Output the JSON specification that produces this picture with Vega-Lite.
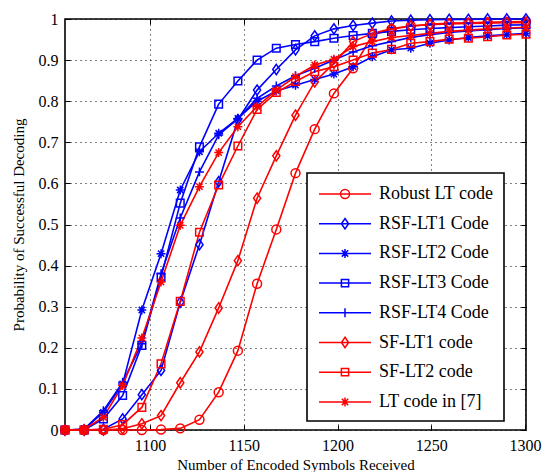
{
  "$schema": "https://vega.github.io/schema/vega-lite/v6.json",
  "width": 461,
  "height": 411,
  "autosize": "none",
  "padding": {"left": 65, "top": 19, "right": 18, "bottom": 42},
  "background": "white",
  "config": {
    "view": {"stroke": "black", "strokeWidth": 1.6},
    "axis": {
      "labelFont": "Liberation Serif", "labelFontSize": 16, "labelColor": "black",
      "titleFont": "Liberation Serif", "titleFontSize": 15, "titleFontWeight": "normal", "titleColor": "black",
      "domain": false, "tickColor": "black", "tickSize": -5, "tickWidth": 1,
      "gridColor": "black", "gridDash": [1, 4], "gridOpacity": 1, "gridWidth": 1,
      "labelFlush": false, "labelOverlap": false
    },
    "legend": {
      "strokeColor": "black", "strokeWidth": 1.6, "fillColor": "white", "padding": 10,
      "labelFont": "Liberation Serif", "labelFontSize": 18, "labelColor": "black",
      "labelOffset": 23, "symbolOffset": 17, "symbolStrokeWidth": 1.5, "symbolSize": 400, "rowPadding": 9.7
    }
  },
  "datasets": {
    "curves": [
      {"n":1054.72,"s":"Robust LT code","p":0},{"n":1064.96,"s":"Robust LT code","p":0},{"n":1075.2,"s":"Robust LT code","p":0},{"n":1085.44,"s":"Robust LT code","p":0},{"n":1095.68,"s":"Robust LT code","p":0},{"n":1105.92,"s":"Robust LT code","p":0.001},{"n":1116.16,"s":"Robust LT code","p":0.004},{"n":1126.4,"s":"Robust LT code","p":0.025},{"n":1136.64,"s":"Robust LT code","p":0.092},{"n":1146.88,"s":"Robust LT code","p":0.193},{"n":1157.12,"s":"Robust LT code","p":0.356},{"n":1167.36,"s":"Robust LT code","p":0.488},{"n":1177.6,"s":"Robust LT code","p":0.625},{"n":1187.84,"s":"Robust LT code","p":0.732},{"n":1198.08,"s":"Robust LT code","p":0.819},{"n":1208.32,"s":"Robust LT code","p":0.88},{"n":1218.56,"s":"Robust LT code","p":0.961},{"n":1228.8,"s":"Robust LT code","p":0.975},{"n":1239.04,"s":"Robust LT code","p":0.983},{"n":1249.28,"s":"Robust LT code","p":0.987},{"n":1259.52,"s":"Robust LT code","p":0.99},{"n":1269.76,"s":"Robust LT code","p":0.991},{"n":1280,"s":"Robust LT code","p":0.992},{"n":1290.24,"s":"Robust LT code","p":0.993},{"n":1300.48,"s":"Robust LT code","p":0.994},
      {"n":1054.72,"s":"RSF-LT1 Code","p":0},{"n":1064.96,"s":"RSF-LT1 Code","p":0},{"n":1075.2,"s":"RSF-LT1 Code","p":0.002},{"n":1085.44,"s":"RSF-LT1 Code","p":0.027},{"n":1095.68,"s":"RSF-LT1 Code","p":0.086},{"n":1105.92,"s":"RSF-LT1 Code","p":0.145},{"n":1116.16,"s":"RSF-LT1 Code","p":0.311},{"n":1126.4,"s":"RSF-LT1 Code","p":0.451},{"n":1136.64,"s":"RSF-LT1 Code","p":0.604},{"n":1146.88,"s":"RSF-LT1 Code","p":0.755},{"n":1157.12,"s":"RSF-LT1 Code","p":0.827},{"n":1167.36,"s":"RSF-LT1 Code","p":0.877},{"n":1177.6,"s":"RSF-LT1 Code","p":0.925},{"n":1187.84,"s":"RSF-LT1 Code","p":0.959},{"n":1198.08,"s":"RSF-LT1 Code","p":0.976},{"n":1208.32,"s":"RSF-LT1 Code","p":0.984},{"n":1218.56,"s":"RSF-LT1 Code","p":0.99},{"n":1228.8,"s":"RSF-LT1 Code","p":0.995},{"n":1239.04,"s":"RSF-LT1 Code","p":0.997},{"n":1249.28,"s":"RSF-LT1 Code","p":0.998},{"n":1259.52,"s":"RSF-LT1 Code","p":0.999},{"n":1269.76,"s":"RSF-LT1 Code","p":0.999},{"n":1280,"s":"RSF-LT1 Code","p":1},{"n":1290.24,"s":"RSF-LT1 Code","p":1},{"n":1300.48,"s":"RSF-LT1 Code","p":1},
      {"n":1054.72,"s":"RSF-LT2 Code","p":0},{"n":1064.96,"s":"RSF-LT2 Code","p":0.002},{"n":1075.2,"s":"RSF-LT2 Code","p":0.043},{"n":1085.44,"s":"RSF-LT2 Code","p":0.112},{"n":1095.68,"s":"RSF-LT2 Code","p":0.292},{"n":1105.92,"s":"RSF-LT2 Code","p":0.429},{"n":1116.16,"s":"RSF-LT2 Code","p":0.584},{"n":1126.4,"s":"RSF-LT2 Code","p":0.677},{"n":1136.64,"s":"RSF-LT2 Code","p":0.722},{"n":1146.88,"s":"RSF-LT2 Code","p":0.758},{"n":1157.12,"s":"RSF-LT2 Code","p":0.8},{"n":1167.36,"s":"RSF-LT2 Code","p":0.825},{"n":1177.6,"s":"RSF-LT2 Code","p":0.839},{"n":1187.84,"s":"RSF-LT2 Code","p":0.853},{"n":1198.08,"s":"RSF-LT2 Code","p":0.866},{"n":1208.32,"s":"RSF-LT2 Code","p":0.884},{"n":1218.56,"s":"RSF-LT2 Code","p":0.908},{"n":1228.8,"s":"RSF-LT2 Code","p":0.925},{"n":1239.04,"s":"RSF-LT2 Code","p":0.929},{"n":1249.28,"s":"RSF-LT2 Code","p":0.941},{"n":1259.52,"s":"RSF-LT2 Code","p":0.949},{"n":1269.76,"s":"RSF-LT2 Code","p":0.955},{"n":1280,"s":"RSF-LT2 Code","p":0.959},{"n":1290.24,"s":"RSF-LT2 Code","p":0.962},{"n":1300.48,"s":"RSF-LT2 Code","p":0.965},
      {"n":1054.72,"s":"RSF-LT3 Code","p":0},{"n":1064.96,"s":"RSF-LT3 Code","p":0},{"n":1075.2,"s":"RSF-LT3 Code","p":0.027},{"n":1085.44,"s":"RSF-LT3 Code","p":0.084},{"n":1095.68,"s":"RSF-LT3 Code","p":0.206},{"n":1105.92,"s":"RSF-LT3 Code","p":0.372},{"n":1116.16,"s":"RSF-LT3 Code","p":0.552},{"n":1126.4,"s":"RSF-LT3 Code","p":0.689},{"n":1136.64,"s":"RSF-LT3 Code","p":0.793},{"n":1146.88,"s":"RSF-LT3 Code","p":0.849},{"n":1157.12,"s":"RSF-LT3 Code","p":0.9},{"n":1167.36,"s":"RSF-LT3 Code","p":0.929},{"n":1177.6,"s":"RSF-LT3 Code","p":0.938},{"n":1187.84,"s":"RSF-LT3 Code","p":0.945},{"n":1198.08,"s":"RSF-LT3 Code","p":0.953},{"n":1208.32,"s":"RSF-LT3 Code","p":0.96},{"n":1218.56,"s":"RSF-LT3 Code","p":0.965},{"n":1228.8,"s":"RSF-LT3 Code","p":0.97},{"n":1239.04,"s":"RSF-LT3 Code","p":0.974},{"n":1249.28,"s":"RSF-LT3 Code","p":0.977},{"n":1259.52,"s":"RSF-LT3 Code","p":0.979},{"n":1269.76,"s":"RSF-LT3 Code","p":0.981},{"n":1280,"s":"RSF-LT3 Code","p":0.983},{"n":1290.24,"s":"RSF-LT3 Code","p":0.985},{"n":1300.48,"s":"RSF-LT3 Code","p":0.986},
      {"n":1054.72,"s":"RSF-LT4 Code","p":0},{"n":1064.96,"s":"RSF-LT4 Code","p":0.002},{"n":1075.2,"s":"RSF-LT4 Code","p":0.047},{"n":1085.44,"s":"RSF-LT4 Code","p":0.116},{"n":1095.68,"s":"RSF-LT4 Code","p":0.21},{"n":1105.92,"s":"RSF-LT4 Code","p":0.38},{"n":1116.16,"s":"RSF-LT4 Code","p":0.516},{"n":1126.4,"s":"RSF-LT4 Code","p":0.628},{"n":1136.64,"s":"RSF-LT4 Code","p":0.718},{"n":1146.88,"s":"RSF-LT4 Code","p":0.757},{"n":1157.12,"s":"RSF-LT4 Code","p":0.807},{"n":1167.36,"s":"RSF-LT4 Code","p":0.837},{"n":1177.6,"s":"RSF-LT4 Code","p":0.862},{"n":1187.84,"s":"RSF-LT4 Code","p":0.88},{"n":1198.08,"s":"RSF-LT4 Code","p":0.9},{"n":1208.32,"s":"RSF-LT4 Code","p":0.92},{"n":1218.56,"s":"RSF-LT4 Code","p":0.935},{"n":1228.8,"s":"RSF-LT4 Code","p":0.945},{"n":1239.04,"s":"RSF-LT4 Code","p":0.955},{"n":1249.28,"s":"RSF-LT4 Code","p":0.962},{"n":1259.52,"s":"RSF-LT4 Code","p":0.967},{"n":1269.76,"s":"RSF-LT4 Code","p":0.971},{"n":1280,"s":"RSF-LT4 Code","p":0.974},{"n":1290.24,"s":"RSF-LT4 Code","p":0.977},{"n":1300.48,"s":"RSF-LT4 Code","p":0.979},
      {"n":1054.72,"s":"SF-LT1 code","p":0},{"n":1064.96,"s":"SF-LT1 code","p":0},{"n":1075.2,"s":"SF-LT1 code","p":0},{"n":1085.44,"s":"SF-LT1 code","p":0.003},{"n":1095.68,"s":"SF-LT1 code","p":0.015},{"n":1105.92,"s":"SF-LT1 code","p":0.035},{"n":1116.16,"s":"SF-LT1 code","p":0.115},{"n":1126.4,"s":"SF-LT1 code","p":0.19},{"n":1136.64,"s":"SF-LT1 code","p":0.297},{"n":1146.88,"s":"SF-LT1 code","p":0.412},{"n":1157.12,"s":"SF-LT1 code","p":0.564},{"n":1167.36,"s":"SF-LT1 code","p":0.667},{"n":1177.6,"s":"SF-LT1 code","p":0.766},{"n":1187.84,"s":"SF-LT1 code","p":0.847},{"n":1198.08,"s":"SF-LT1 code","p":0.892},{"n":1208.32,"s":"SF-LT1 code","p":0.945},{"n":1218.56,"s":"SF-LT1 code","p":0.965},{"n":1228.8,"s":"SF-LT1 code","p":0.977},{"n":1239.04,"s":"SF-LT1 code","p":0.983},{"n":1249.28,"s":"SF-LT1 code","p":0.986},{"n":1259.52,"s":"SF-LT1 code","p":0.988},{"n":1269.76,"s":"SF-LT1 code","p":0.989},{"n":1280,"s":"SF-LT1 code","p":0.99},{"n":1290.24,"s":"SF-LT1 code","p":0.991},{"n":1300.48,"s":"SF-LT1 code","p":0.991},
      {"n":1054.72,"s":"SF-LT2 code","p":0},{"n":1064.96,"s":"SF-LT2 code","p":0},{"n":1075.2,"s":"SF-LT2 code","p":0.002},{"n":1085.44,"s":"SF-LT2 code","p":0.013},{"n":1095.68,"s":"SF-LT2 code","p":0.055},{"n":1105.92,"s":"SF-LT2 code","p":0.161},{"n":1116.16,"s":"SF-LT2 code","p":0.313},{"n":1126.4,"s":"SF-LT2 code","p":0.481},{"n":1136.64,"s":"SF-LT2 code","p":0.596},{"n":1146.88,"s":"SF-LT2 code","p":0.691},{"n":1157.12,"s":"SF-LT2 code","p":0.78},{"n":1167.36,"s":"SF-LT2 code","p":0.821},{"n":1177.6,"s":"SF-LT2 code","p":0.848},{"n":1187.84,"s":"SF-LT2 code","p":0.872},{"n":1198.08,"s":"SF-LT2 code","p":0.884},{"n":1208.32,"s":"SF-LT2 code","p":0.9},{"n":1218.56,"s":"SF-LT2 code","p":0.917},{"n":1228.8,"s":"SF-LT2 code","p":0.926},{"n":1239.04,"s":"SF-LT2 code","p":0.941},{"n":1249.28,"s":"SF-LT2 code","p":0.945},{"n":1259.52,"s":"SF-LT2 code","p":0.951},{"n":1269.76,"s":"SF-LT2 code","p":0.953},{"n":1280,"s":"SF-LT2 code","p":0.957},{"n":1290.24,"s":"SF-LT2 code","p":0.961},{"n":1300.48,"s":"SF-LT2 code","p":0.963},
      {"n":1054.72,"s":"LT code in [7]","p":0},{"n":1064.96,"s":"LT code in [7]","p":0.002},{"n":1075.2,"s":"LT code in [7]","p":0.031},{"n":1085.44,"s":"LT code in [7]","p":0.108},{"n":1095.68,"s":"LT code in [7]","p":0.224},{"n":1105.92,"s":"LT code in [7]","p":0.36},{"n":1116.16,"s":"LT code in [7]","p":0.498},{"n":1126.4,"s":"LT code in [7]","p":0.592},{"n":1136.64,"s":"LT code in [7]","p":0.675},{"n":1146.88,"s":"LT code in [7]","p":0.738},{"n":1157.12,"s":"LT code in [7]","p":0.787},{"n":1167.36,"s":"LT code in [7]","p":0.827},{"n":1177.6,"s":"LT code in [7]","p":0.86},{"n":1187.84,"s":"LT code in [7]","p":0.888},{"n":1198.08,"s":"LT code in [7]","p":0.902},{"n":1208.32,"s":"LT code in [7]","p":0.933},{"n":1218.56,"s":"LT code in [7]","p":0.945},{"n":1228.8,"s":"LT code in [7]","p":0.955},{"n":1239.04,"s":"LT code in [7]","p":0.96},{"n":1249.28,"s":"LT code in [7]","p":0.965},{"n":1259.52,"s":"LT code in [7]","p":0.97},{"n":1269.76,"s":"LT code in [7]","p":0.973},{"n":1280,"s":"LT code in [7]","p":0.976},{"n":1290.24,"s":"LT code in [7]","p":0.978},{"n":1300.48,"s":"LT code in [7]","p":0.98}
    ]
  },
  "data": {"name": "curves"},
  "layer": [
    {
      "mark": {"type": "line", "strokeWidth": 1.6},
      "encoding": {
        "x": {"field": "n", "type": "quantitative", "scale": {"domain": [1054.72, 1300.48], "nice": false, "zero": false},
              "axis": {"title": "Number of Encoded Symbols Received", "values": [1100, 1150, 1200, 1250, 1300], "format": "d", "grid": true, "labelPadding": 12, "titlePadding": 4}},
        "y": {"field": "p", "type": "quantitative", "scale": {"domain": [0, 1], "nice": false},
              "axis": {"title": "Probability of Successful Decoding", "values": [0, 0.1, 0.2, 0.3, 0.4, 0.5, 0.6, 0.7, 0.8, 0.9, 1], "format": "~g", "grid": true, "labelPadding": 12, "titlePadding": 12}},
        "color": {"field": "s", "type": "nominal", "legend": null,
                  "scale": {"domain": ["Robust LT code", "RSF-LT1 Code", "RSF-LT2 Code", "RSF-LT3 Code", "RSF-LT4 Code", "SF-LT1 code", "SF-LT2 code", "LT code in [7]"],
                            "range": ["#ff0000", "#0000ff", "#0000ff", "#0000ff", "#0000ff", "#ff0000", "#ff0000", "#ff0000"]}},
        "detail": {"field": "s"}
      }
    },
    {
      "mark": {"type": "point", "filled": false, "strokeWidth": 1.5, "size": 80, "opacity": 1},
      "encoding": {
        "x": {"field": "n", "type": "quantitative", "axis": null},
        "y": {"field": "p", "type": "quantitative", "axis": null},
        "color": {"field": "s", "type": "nominal", "legend": null},
        "shape": {"field": "s", "type": "nominal", "legend": null,
                  "scale": {"domain": ["Robust LT code", "RSF-LT1 Code", "RSF-LT2 Code", "RSF-LT3 Code", "RSF-LT4 Code", "SF-LT1 code", "SF-LT2 code", "LT code in [7]"],
                            "range": ["circle", "M0,-1.15L0.8,0L0,1.15L-0.8,0Z", "M0,-1L0,1M-1,0L1,0M-0.7,-0.7L0.7,0.7M-0.7,0.7L0.7,-0.7", "M-0.85,-0.85L0.85,-0.85L0.85,0.85L-0.85,0.85Z", "M-1,0L1,0M0,-1L0,1", "M0,-1.15L0.8,0L0,1.15L-0.8,0Z", "M-0.85,-0.85L0.85,-0.85L0.85,0.85L-0.85,0.85Z", "M0,-1L0,1M-1,0L1,0M-0.7,-0.7L0.7,0.7M-0.7,0.7L0.7,-0.7"]}}
      }
    },
    {
      "transform": [{"filter": "false"}],
      "mark": {"type": "point", "filled": false, "strokeWidth": 1.5, "size": 400, "opacity": 1},
      "encoding": {
        "x": {"field": "n", "type": "quantitative", "axis": {"orient": "top", "labels": false, "title": null, "grid": false, "values": [1100, 1150, 1200, 1250, 1300]}},
        "y": {"field": "p", "type": "quantitative", "axis": {"orient": "right", "labels": false, "title": null, "grid": false, "values": [0, 0.1, 0.2, 0.3, 0.4, 0.5, 0.6, 0.7, 0.8, 0.9, 1]}},
        "color": {"field": "s", "type": "nominal",
                  "legend": {"title": null, "orient": "none", "legendX": 242, "legendY": 154, "symbolFillColor": "transparent", "strokeColor": "black"}},
        "shape": {"field": "s", "type": "nominal",
                  "legend": {"title": null, "orient": "none", "legendX": 242, "legendY": 154, "symbolFillColor": "transparent", "strokeColor": "black"},
                  "scale": {"domain": ["Robust LT code", "RSF-LT1 Code", "RSF-LT2 Code", "RSF-LT3 Code", "RSF-LT4 Code", "SF-LT1 code", "SF-LT2 code", "LT code in [7]"],
                            "range": ["M-2.6,0L2.6,0M-0.45,0A0.45,0.45,0,1,0,0.45,0A0.45,0.45,0,1,0,-0.45,0Z", "M-2.6,0L2.6,0M0,-0.52L0.36,0L0,0.52L-0.36,0Z", "M-2.6,0L2.6,0M0,-0.45L0,0.45M-0.32,-0.32L0.32,0.32M-0.32,0.32L0.32,-0.32", "M-2.6,0L2.6,0M-0.36,-0.36L0.36,-0.36L0.36,0.36L-0.36,0.36Z", "M-2.6,0L2.6,0M0,-0.45L0,0.45", "M-2.6,0L2.6,0M0,-0.52L0.36,0L0,0.52L-0.36,0Z", "M-2.6,0L2.6,0M-0.36,-0.36L0.36,-0.36L0.36,0.36L-0.36,0.36Z", "M-2.6,0L2.6,0M0,-0.45L0,0.45M-0.32,-0.32L0.32,0.32M-0.32,0.32L0.32,-0.32"]}}
      }
    }
  ],
  "resolve": {
    "scale": {"shape": "independent"},
    "legend": {"color": "independent", "shape": "independent"},
    "axis": {"x": "independent", "y": "independent"}
  }
}
